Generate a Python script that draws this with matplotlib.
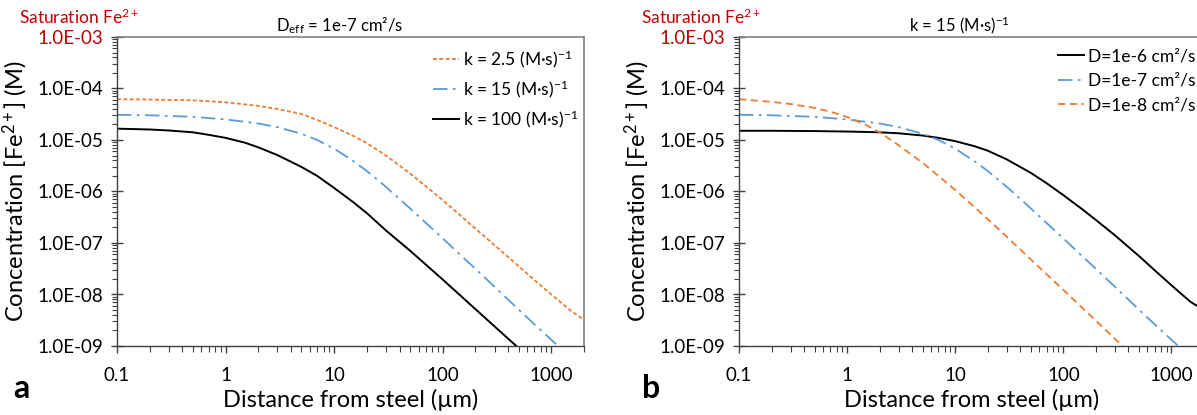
import matplotlib
matplotlib.use('Agg')
import matplotlib.pyplot as plt
from matplotlib.ticker import FixedLocator, FuncFormatter, LogLocator, NullFormatter

plt.rcParams['font.family'] = ['Lato', 'DejaVu Sans']
plt.rcParams['mathtext.fontset'] = 'custom'
plt.rcParams['mathtext.rm'] = 'Lato'
plt.rcParams['mathtext.it'] = 'Lato:italic'
plt.rcParams['mathtext.bf'] = 'Lato:bold'

# ---------------- data ----------------
# Panel a : D_eff = 1e-7 cm2/s, different k
dist_k25 = [0.1, 0.2, 0.5, 1, 2, 3, 5, 7, 10, 15, 20, 30, 50, 70, 100, 150, 200, 300,
            500, 700, 1000, 1500, 2000]
conc_k25 = [6.2e-5, 6.1e-5, 5.9e-5, 5.4e-5, 4.6e-5, 4.0e-5, 3.2e-5, 2.45e-5, 1.78e-5,
            1.2e-5, 8.7e-6, 5.0e-6, 2.24e-6, 1.26e-6, 6.8e-7, 3.24e-7, 1.9e-7, 9.1e-8,
            3.55e-8, 1.9e-8, 1.0e-8, 4.9e-9, 3.2e-9]

dist_k15 = [0.1, 0.2, 0.5, 1, 2, 3, 5, 7, 10, 15, 20, 30, 50, 70, 100, 150, 200, 300,
            500, 700, 1000, 1200]
conc_k15 = [3.09e-5, 3.02e-5, 2.82e-5, 2.51e-5, 2.09e-5, 1.78e-5, 1.32e-5, 1.0e-5, 6.8e-6,
            3.9e-6, 2.5e-6, 1.23e-6, 4.7e-7, 2.45e-7, 1.23e-7, 5.5e-8, 3.16e-8, 1.41e-8,
            5.1e-9, 2.63e-9, 1.32e-9, 9.3e-10]

dist_k100 = [0.1, 0.2, 0.3, 0.5, 0.7, 1, 1.5, 2, 3, 5, 7, 10, 15, 20, 30, 50, 100, 200,
             300, 500]
conc_k100 = [1.66e-5, 1.6e-5, 1.53e-5, 1.41e-5, 1.26e-5, 1.1e-5, 8.9e-6, 7.2e-6, 5.1e-6,
             3.0e-6, 2.0e-6, 1.17e-6, 6.2e-7, 3.8e-7, 1.75e-7, 7.1e-8, 1.95e-8, 5.2e-9,
             2.4e-9, 9.1e-10]

# Panel b : k = 15 (M s)^-1, different D
dist_d6 = [0.1, 0.2, 0.5, 1, 2, 3, 5, 7, 10, 15, 20, 30, 50, 70, 100, 150, 200, 300,
           500, 700, 1000, 1500, 1750, 2000]
conc_d6 = [1.51e-5, 1.51e-5, 1.49e-5, 1.46e-5, 1.41e-5, 1.35e-5, 1.22e-5, 1.1e-5, 9.5e-6,
           7.6e-6, 6.2e-6, 4.2e-6, 2.3e-6, 1.45e-6, 8.5e-7, 4.5e-7, 2.8e-7, 1.41e-7,
           5.6e-8, 2.95e-8, 1.51e-8, 7.2e-9, 5.9e-9, 5.2e-9]

dist_d7 = dist_k15
conc_d7 = conc_k15

dist_d8 = [0.1, 0.2, 0.3, 0.5, 0.7, 1, 1.5, 2, 3, 5, 7, 10, 15, 20, 30, 50, 100, 200,
           300, 400]
conc_d8 = [6.2e-5, 5.5e-5, 5.0e-5, 4.2e-5, 3.55e-5, 2.8e-5, 1.95e-5, 1.41e-5, 7.9e-6,
           3.6e-6, 2.0e-6, 1.07e-6, 5.0e-7, 2.9e-7, 1.32e-7, 4.8e-8, 1.23e-8, 3.1e-9,
           1.38e-9, 7.8e-10]

x_ticks = [0.1, 1, 10, 100, 1000]
x_ticklabels = ['0.1', '1', '10', '100', '1000']
y_ticks = [1e-9, 1e-8, 1e-7, 1e-6, 1e-5, 1e-4, 1e-3]

labels_a = ['k = 2.5 (M·s)$^{-1}$', 'k = 15 (M·s)$^{-1}$', 'k = 100 (M·s)$^{-1}$']
labels_b = ['D=1e-6 cm²/s', 'D=1e-7 cm²/s', 'D=1e-8 cm²/s']
title_a = 'D$_{\\mathrm{eff}}$ = 1e-7 cm²/s'
title_b = 'k = 15 (M·s)$^{-1}$'

ORANGE = '#ED7D31'
BLUE = '#5B9BD5'
BLACK = '#000000'
RED = '#C00000'

W, H = 1197, 415
fig = plt.figure(figsize=(W / 100, H / 100), dpi=100)


def px_axes(x0, x1, y0, y1):
    return fig.add_axes([x0 / W, 1 - y1 / H, (x1 - x0) / W, (y1 - y0) / H])


def style(ax):
    ax.set_xscale('log')
    ax.set_yscale('log')
    ax.set_xlim(0.1, 2000)
    ax.set_ylim(1e-9, 1e-3)
    ax.xaxis.set_major_locator(FixedLocator(x_ticks))
    ax.set_xticklabels(x_ticklabels)
    ax.xaxis.set_minor_locator(LogLocator(base=10, subs=range(2, 10), numticks=20))
    ax.xaxis.set_minor_formatter(NullFormatter())
    ax.yaxis.set_major_locator(FixedLocator(y_ticks))
    ax.yaxis.set_major_formatter(FuncFormatter(lambda v, p: f'{v:.1E}'))
    ax.yaxis.set_minor_locator(LogLocator(base=10, subs=range(2, 10), numticks=20))
    ax.yaxis.set_minor_formatter(NullFormatter())
    ax.tick_params(axis='both', which='major', labelsize=13.5, colors='#404040',
                   labelcolor='black', width=1.0)
    ax.tick_params(axis='y', which='major', direction='inout', length=8, pad=6)
    ax.tick_params(axis='y', which='minor', direction='out', length=3.5, width=0.8,
                   colors='#404040')
    ax.tick_params(axis='x', which='major', direction='out', length=5, pad=10)
    ax.tick_params(axis='x', which='minor', direction='out', length=4, width=0.8,
                   colors='#404040')
    for s in ['left', 'bottom']:
        ax.spines[s].set_color('#404040')
        ax.spines[s].set_linewidth(1.0)
    for s in ['top', 'right']:
        ax.spines[s].set_color('#808080')
        ax.spines[s].set_linewidth(1.2)
    ax.set_xlabel('Distance from steel (µm)', fontsize=17, labelpad=4)
    ax.set_ylabel('Concentration [Fe$^{2+}$] (M)', fontsize=17, labelpad=5)
    fig.canvas.draw()
    for lab in ax.get_yticklabels():
        if lab.get_text() == '1.0E-03':
            lab.set_color(RED)


DASH_A = (0, (2.2, 1.3))
DASHDOT = (0, (8, 3, 1.5, 3))
DASH_B = (0, (4, 2.5))

# ---------------- panel a ----------------
axa = px_axes(117, 584, 37, 346)
axa.plot(dist_k25, conc_k25, color=ORANGE, lw=1.3, ls=DASH_A, label=labels_a[0])
axa.plot(dist_k15, conc_k15, color=BLUE, lw=1.3, ls=DASHDOT, label=labels_a[1])
axa.plot(dist_k100, conc_k100, color=BLACK, lw=1.4, label=labels_a[2])
style(axa)
axa.set_title(title_a, fontsize=12, pad=4, x=0.477)
axa.legend(loc='upper left', bbox_to_anchor=((433 - 117) / 467, (346 - 48) / 309),
           frameon=False, fontsize=12.5, handlelength=1.5, handletextpad=0.2,
           borderpad=0, borderaxespad=0, labelspacing=0.5)

# ---------------- panel b ----------------
axb = px_axes(739, 1204, 37, 346)
axb.plot(dist_d6, conc_d6, color=BLACK, lw=1.4, label=labels_b[0])
axb.plot(dist_d7, conc_d7, color=BLUE, lw=1.3, ls=DASHDOT, label=labels_b[1])
axb.plot(dist_d8, conc_d8, color=ORANGE, lw=1.3, ls=DASH_B, label=labels_b[2])
style(axb)
axb.set_title(title_b, fontsize=12, pad=4, x=0.475)
axb.legend(loc='upper left', bbox_to_anchor=((1058 - 739) / 465, (346 - 48) / 309),
           frameon=False, fontsize=12.5, handlelength=1.5, handletextpad=0.2,
           borderpad=0, borderaxespad=0, labelspacing=0.5)

# ---------------- annotations ----------------
fig.text(79 / W, 1 - 17 / H, 'Saturation Fe$^{2+}$', color=RED, fontsize=12.5,
         ha='center', va='center')
fig.text((79 + 622) / W, 1 - 17 / H, 'Saturation Fe$^{2+}$', color=RED, fontsize=12.5,
         ha='center', va='center')
fig.text(21 / W, 1 - 388 / H, 'a', fontsize=23, fontweight='bold', ha='center', va='center')
fig.text((21 + 630) / W, 1 - 388 / H, 'b', fontsize=23, fontweight='bold', ha='center', va='center')

fig.savefig('out.png', dpi=100)
